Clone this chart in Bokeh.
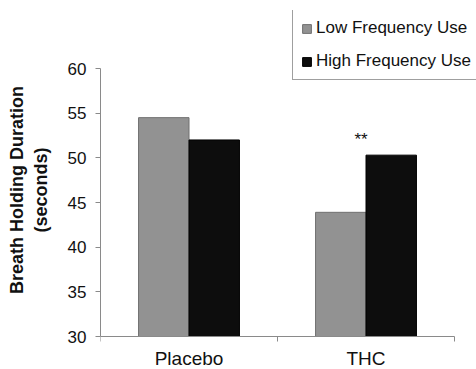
from bokeh.plotting import figure
from bokeh.models import FixedTicker, Legend, LegendItem
from bokeh.embed import file_html
from bokeh.resources import INLINE
from bokeh.core.properties import value

# ---- data ----
conditions = ["Placebo", "THC"]
low_freq = [54.5, 43.9]
high_freq = [52.0, 50.3]
significance = ["", "**"]
y_ticks = [30, 35, 40, 45, 50, 55, 60]
series_names = ["Low Frequency Use", "High Frequency Use"]
y_label = "Breath Holding Duration\n(seconds)"

FONT = "Liberation Sans"
LOW_COLOR = "#929292"
HIGH_COLOR = "#0d0d0d"
AXIS_COLOR = "#8a8a8a"
TEXT_COLOR = "#111111"

# ---- layout (pixels) ----
W, H = 476, 369
LEFT, TOP = 100, 10
AXIS_Y_PX = 336            # canvas y of the category axis
PX_PER_Y = 268 / (y_ticks[-1] - y_ticks[0])
PX_PER_CAT = 177
frame_w = W - LEFT
y_start = y_ticks[0] - (H - AXIS_Y_PX) / PX_PER_Y
y_end = y_ticks[0] + (AXIS_Y_PX - TOP) / PX_PER_Y
x_end = frame_w / PX_PER_CAT
tick_len = 5 / PX_PER_Y

idx = list(range(len(conditions)))
bounds = idx + [len(conditions)]
centers = [i + 0.5 for i in idx]
bar_w = 0.285
off = 0.1425

p = figure(width=W, height=H,
           x_range=(0, x_end), y_range=(y_start, y_end),
           output_backend="svg", toolbar_location=None,
           min_border_left=LEFT, min_border_right=0,
           min_border_top=TOP, min_border_bottom=0)

p.xgrid.visible = False
p.ygrid.visible = False
p.outline_line_color = None
p.background_fill_color = "white"
p.border_fill_color = "white"

r_low = p.vbar(x=[c - off for c in centers], top=low_freq, bottom=y_ticks[0],
               width=bar_w, fill_color=LOW_COLOR, line_color="#707070", line_width=1)
r_high = p.vbar(x=[c + off for c in centers], top=high_freq, bottom=y_ticks[0],
                width=bar_w, fill_color=HIGH_COLOR, line_color="#000000", line_width=1)

p.text(x=centers, y=[h + 1.8 for h in high_freq], text=significance, x_offset=-5,
       text_font=value(FONT), text_font_size="17px", text_align="center",
       text_baseline="alphabetic", text_color=TEXT_COLOR)

# category axis (drawn at y = first tick, with boundary ticks between categories)
p.xaxis.visible = False
p.segment(x0=[bounds[0]], x1=[bounds[-1]], y0=[y_ticks[0]], y1=[y_ticks[0]],
          line_color=AXIS_COLOR, line_width=1)
p.segment(x0=bounds, x1=bounds, y0=[y_ticks[0]] * len(bounds),
          y1=[y_ticks[0] - tick_len] * len(bounds),
          line_color=AXIS_COLOR, line_width=1)
p.text(x=centers, y=[y_ticks[0]] * len(centers), text=conditions,
       y_offset=22, text_font=value(FONT), text_font_size="19px",
       text_align="center", text_baseline="alphabetic", text_color=TEXT_COLOR)

# y axis
ya = p.yaxis[0]
ya.bounds = (y_ticks[0], y_ticks[-1])
ya.ticker = FixedTicker(ticks=y_ticks, minor_ticks=[])
ya.major_tick_out = 5
ya.major_tick_in = 0
ya.major_tick_line_color = AXIS_COLOR
ya.axis_line_color = AXIS_COLOR
ya.minor_tick_line_color = None
ya.major_label_text_font = FONT
ya.major_label_text_font_size = "17px"
ya.major_label_text_color = TEXT_COLOR
ya.major_label_standoff = 9
ya.axis_label = y_label
ya.axis_label_text_font = FONT
ya.axis_label_text_font_size = "18px"
ya.axis_label_text_font_style = "bold"
ya.axis_label_text_color = TEXT_COLOR
ya.axis_label_standoff = 14

legend_bottom_px = 80      # canvas y of legend bottom edge
legend = Legend(items=[LegendItem(label=series_names[0], renderers=[r_low]),
                       LegendItem(label=series_names[1], renderers=[r_high])],
                location=(192, H - legend_bottom_px), orientation="vertical",
                label_text_font=FONT, label_text_font_size="17px",
                label_text_color=TEXT_COLOR,
                glyph_width=11, glyph_height=11, label_height=20,
                label_standoff=4, spacing=13, padding=8, margin=0,
                border_line_color="#404040", border_line_width=1,
                background_fill_color="white", background_fill_alpha=1)
p.add_layout(legend)

open("out.html", "w").write(file_html(p, INLINE))
